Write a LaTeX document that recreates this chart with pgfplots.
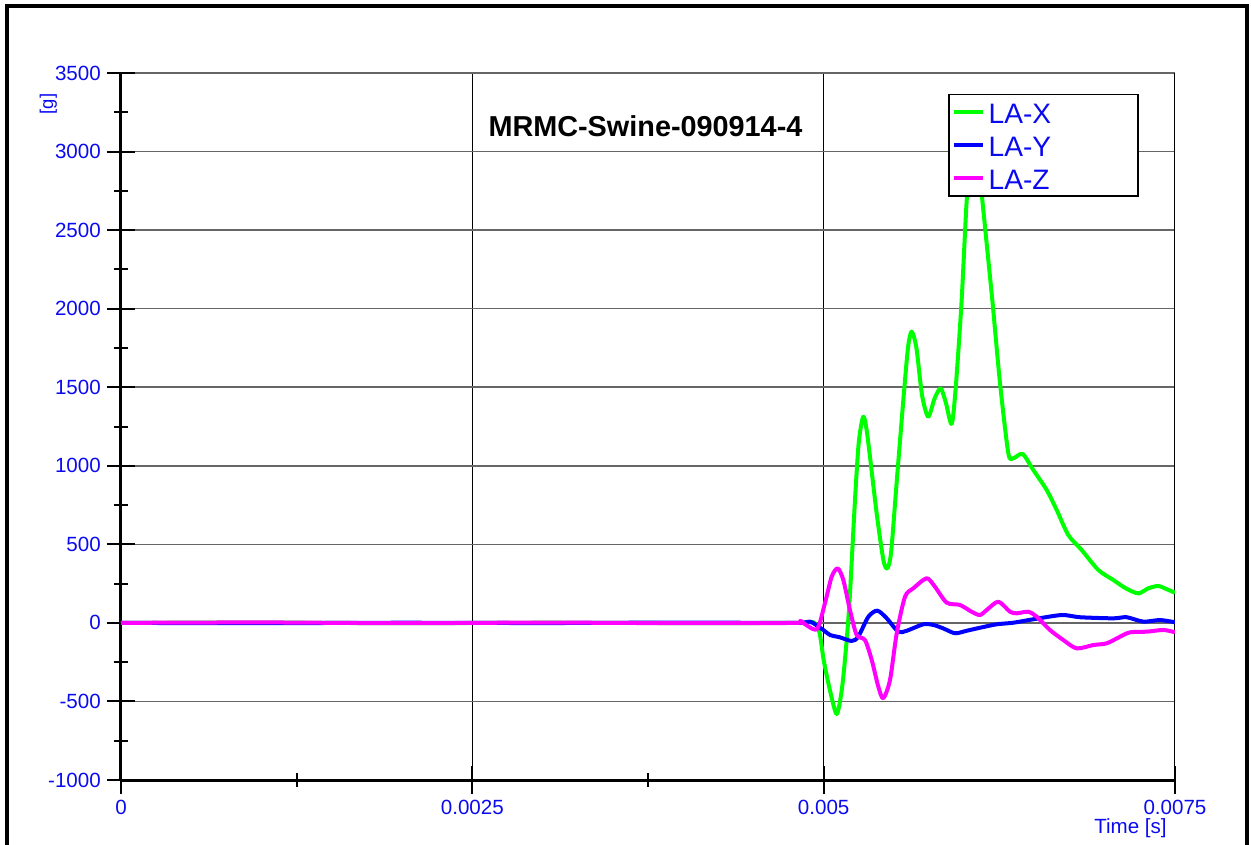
\documentclass[border=0pt]{standalone}
\usepackage{fontspec}
\setmainfont{Liberation Sans}
\usepackage{pgfplots}
\pgfplotsset{compat=1.18}
\definecolor{lagreen}{RGB}{0,255,0}
\definecolor{lablue}{RGB}{0,0,255}
\definecolor{lamag}{RGB}{255,0,255}
\definecolor{lbltxt}{RGB}{10,10,240}

\begin{document}
\begin{tikzpicture}
\useasboundingbox (-24.2mm,-12.8mm) rectangle (226mm,156mm);
\begin{axis}[
  at={(0,0)}, anchor=south west,
  scale only axis, width=210.8mm, height=141.4mm,
  xmin=0, xmax=0.0075, ymin=-1000, ymax=3500,
  axis x line*=bottom, axis y line*=left,
  axis line style={line width=0.6mm},
  scaled x ticks=false, scaled y ticks=false,
  xtick={0,0.0025,0.005},
  xticklabels={0,0.0025,0.005},
  extra x ticks={0.0075}, extra x tick labels={0.0075},
  extra x tick style={grid style={black!85, line width=0.4mm}},
  ytick={-1000,-500,...,3500},
  yticklabels={-1000,-500,0,500,1000,1500,2000,2500,3000,3500},
  minor x tick num=1, minor y tick num=1,
  tick align=center,
  major tick length=5.6mm, minor tick length=2.8mm,
  tick style={black, line width=0.4mm},
  tick label style={font=\fontsize{11.7}{13}\selectfont, text=lbltxt},
  xmajorgrids, ymajorgrids,
  x grid style={black, line width=0.2mm},
  y grid style={black!60, line width=0.3mm},
  extra y ticks={0}, extra y tick labels={},
  extra y tick style={grid style={black, line width=0.2mm}, major tick length=0pt},
  xlabel={Time [s]},
  xlabel style={at={(axis description cs:0.998,-0.068)}, anchor=east,
    font=\fontsize{11.7}{13}\selectfont, text=lbltxt},
  ylabel={[g]},
  ylabel style={at={(axis description cs:-0.0690,0.956)}, anchor=center,
    font=\fontsize{10.5}{12}\selectfont, text=lbltxt},
  title={MRMC-Swine-090914-4},
  title style={at={(axis description cs:0.4976,0.9095)}, anchor=center,
    font=\bfseries\fontsize{16.4}{18}\selectfont},
  legend style={at={(0.785,0.9703)}, anchor=north west, draw=black,
    line width=0.3mm, fill=white, inner xsep=0.5mm, inner ysep=0.25mm,
    font=\fontsize{16}{18}\selectfont, text=lbltxt,
    nodes={inner ysep=0pt, inner xsep=0.6mm, text height=5.5mm, text depth=1.1mm},
    row sep=0pt},
  legend cell align=left,
  legend image code/.code={\path (0mm,0mm) (6.0mm,0mm);
    \draw[#1, line width=0.8mm] (0mm,0mm) -- (5.8mm,0mm);},
  every axis plot/.append style={line width=0.8mm, line join=round, smooth, tension=0.45},
]

% LA-X
\addplot[color=lagreen] coordinates {
(0,0) (0.001,2) (0.002,-2) (0.003,1) (0.004,-1) (0.0048,0)
(0.004926,5) (0.004970,-60) (0.005000,-236) (0.005045,-430) (0.005093,-580)
(0.005130,-420) (0.005160,-150) (0.005185,150) (0.005223,782) (0.005250,1150)
(0.005282,1312) (0.005310,1200) (0.005377,699) (0.005425,400) (0.005453,347)
(0.005480,450) (0.005520,900) (0.005567,1419) (0.005600,1750) (0.005626,1854)
(0.005660,1750) (0.005700,1450) (0.005744,1312) (0.005790,1430) (0.005833,1493)
(0.005870,1400) (0.005911,1266) (0.005940,1500) (0.005982,2055) (0.006020,2720)
(0.006070,3250) (0.006126,2720) (0.006200,2055) (0.006255,1525) (0.006314,1080)
(0.006349,1048) (0.006416,1075) (0.006492,973) (0.006587,846) (0.006658,719)
(0.006741,559) (0.006836,464) (0.006954,337) (0.007061,273) (0.007150,220)
(0.007239,188) (0.007310,220) (0.007381,235) (0.007440,215) (0.0075,192)
};
\addlegendentry{\makebox[28.8mm][l]{LA-X}}

% LA-Y
\addplot[color=lablue] coordinates {
(0,0) (0.001,-2) (0.002,1) (0.003,-1) (0.004,2) (0.0048,0)
(0.004903,8) (0.004997,-45) (0.005045,-77) (0.005116,-92) (0.005199,-115)
(0.005246,-88) (0.005318,39) (0.005382,78) (0.005449,29) (0.005531,-56)
(0.005591,-50) (0.005709,-9) (0.005780,-13) (0.005851,-35) (0.005935,-66)
(0.006018,-50) (0.006112,-31) (0.006231,-9) (0.006349,1) (0.006492,23)
(0.006694,50) (0.006824,36) (0.007061,29) (0.007156,36) (0.007274,8)
(0.007393,18) (0.0075,4)
};
\addlegendentry{\makebox[28.8mm][l]{LA-Y}}

% LA-Z
\addplot[color=lamag] coordinates {
(0,0) (0.001,3) (0.002,-2) (0.003,2) (0.004,-2) (0.0048,0)
(0.004832,12) (0.004950,-41) (0.005009,125) (0.005057,294) (0.005100,347)
(0.005140,273) (0.005187,82) (0.005235,-77) (0.005294,-109) (0.005342,-236)
(0.005389,-406) (0.005424,-480) (0.005472,-364) (0.005520,-66) (0.005579,167)
(0.005638,220) (0.005733,284) (0.005792,230) (0.005875,129) (0.005970,114)
(0.006053,71) (0.006112,50) (0.006160,82) (0.006243,135) (0.006326,71)
(0.006374,61) (0.006456,71) (0.006516,39) (0.006610,-45) (0.006705,-109)
(0.006800,-162) (0.006919,-141) (0.007014,-130) (0.007109,-88) (0.007180,-60)
(0.007299,-56) (0.007417,-45) (0.0075,-60)
};
\addlegendentry{\makebox[28.8mm][l]{LA-Z}}
\end{axis}
% outer frame
\draw[line width=0.9mm] (-22.8mm,-20mm) -- (-22.8mm,154.84mm) -- (225.2mm,154.84mm) -- (225.2mm,-20mm);
\end{tikzpicture}
\end{document}
